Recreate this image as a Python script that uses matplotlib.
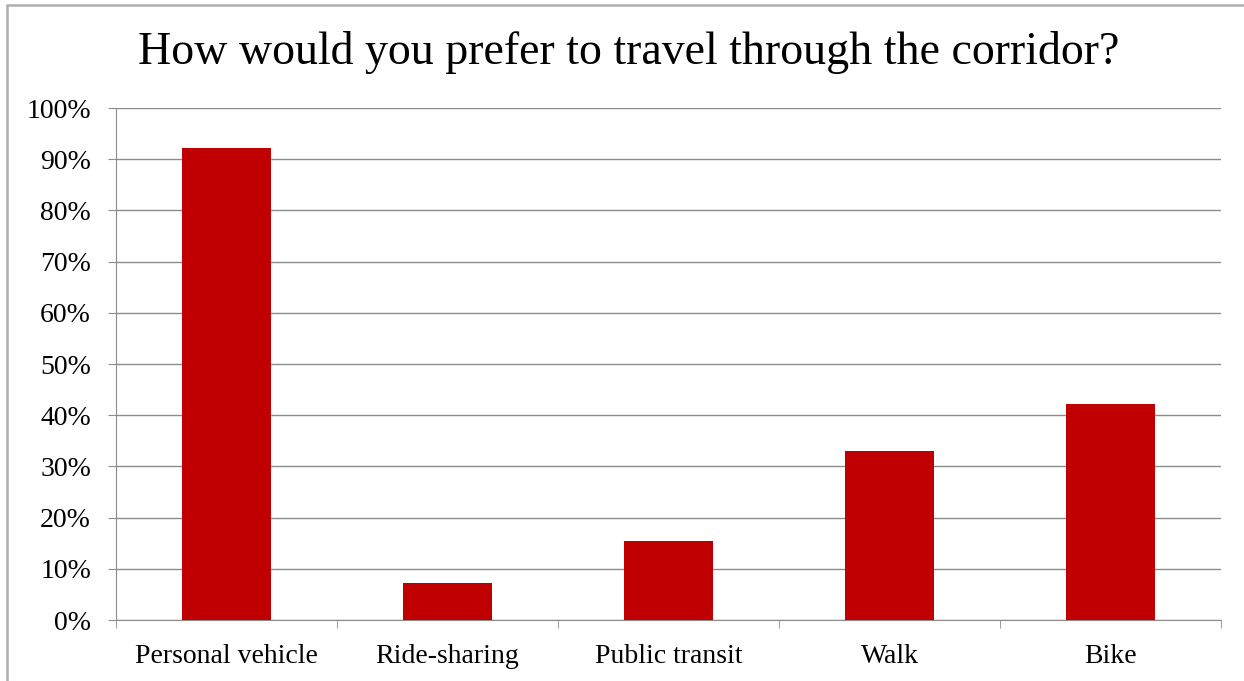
import matplotlib.pyplot as plt
import numpy as np
from matplotlib.patches import Rectangle
from matplotlib.ticker import FuncFormatter

categories = ["Personal vehicle", "Ride-sharing", "Public transit", "Walk", "Bike"]
values = [92.2, 7.2, 15.4, 33.0, 42.2]
title = "How would you prefer to travel through the corridor?"

plt.rcParams['font.family'] = ['Liberation Serif', 'DejaVu Serif']

fig = plt.figure(figsize=(12.44, 6.81), dpi=100)
W, H = 1244, 681

# outer border (left and top edges visible)
fig.patches.append(Rectangle((7 / W, -0.1), 1.2, (H - 5) / H + 0.1, transform=fig.transFigure,
                             fill=False, edgecolor="#b0b0b0", linewidth=1.8))

ax = fig.add_axes([116 / W, (H - 620) / H, (1221 - 116) / W, (620 - 108) / H])

x = np.arange(len(categories))
ax.bar(x, values, width=0.4, color="#c00000", zorder=3)

ax.set_xlim(-0.5, len(categories) - 0.5)
ax.set_ylim(0, 100)
ax.set_yticks(np.arange(0, 101, 10))
ax.yaxis.set_major_formatter(FuncFormatter(lambda v, p: f"{int(v)}%"))
ax.set_xticks(x)
ax.set_xticklabels(categories)
ax.set_xticks(np.arange(-0.5, len(categories), 1), minor=True)

grid_c = "#8c8c8c"
ax.grid(axis="y", color=grid_c, linewidth=1, zorder=0)
for s in ["top", "right"]:
    ax.spines[s].set_visible(False)
ax.spines["left"].set_color(grid_c)
ax.spines["bottom"].set_color(grid_c)
ax.tick_params(axis="y", length=6, color=grid_c, labelsize=20, pad=12)
ax.tick_params(axis="x", which="major", length=0, labelsize=20, pad=17)
ax.tick_params(axis="x", which="minor", length=6, color=grid_c)

fig.text(629 / W, 1 - 52 / H, title, ha="center", va="center", fontsize=33)

fig.savefig("out.png", dpi=100)
